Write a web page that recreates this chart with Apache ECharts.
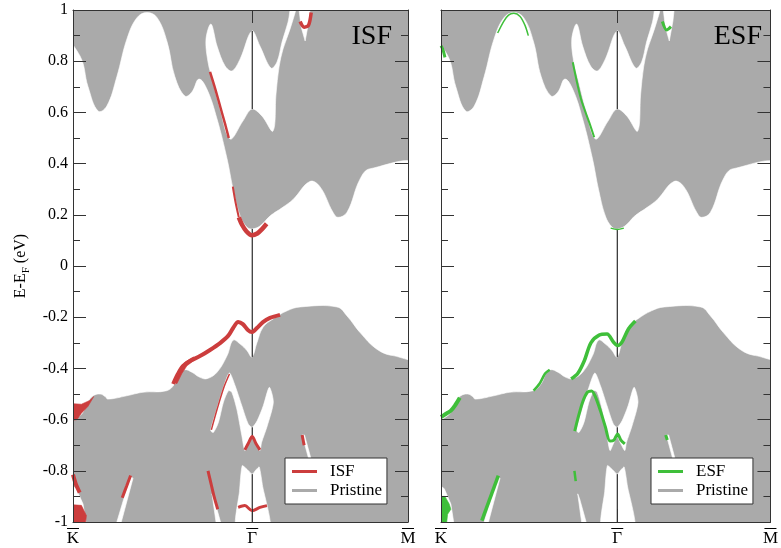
<!DOCTYPE html>
<html><head><meta charset="utf-8">
<script src="https://cdn.jsdelivr.net/npm/echarts@6/dist/echarts.min.js"></script>
<style>html,body{margin:0;padding:0;background:#fff}#c{width:781px;height:548px}</style>
</head><body><div id="c"></div>
<script>
// ---- axis ticks (x is fraction of the K-Γ-M path) ----
const xTickValues = [0, 0.535, 1];
const xTickLabels = ['K', 'Γ', 'M'];
const gammaX = 0.535;
const gammaSpans = [[0.918, 0.613], [0.145, -0.355], [-0.630, -0.669], [-0.813, -1]];
const panelNames = ['ISF', 'ESF'];
const pristineEnvelope = [[0, -1, 1, 1]];

// ---- gaps in the projected bulk (pristine) bands ----
const gapCentralTop = [[0,0.887],[0.021,0.82],[0.045,0.70],[0.075,0.605],[0.101,0.625],[0.131,0.74],[0.161,0.887],[0.191,0.97],[0.221,0.99],[0.251,0.97],[0.281,0.875],[0.304,0.74],[0.334,0.664],[0.355,0.68],[0.376,0.73],[0.400,0.69],[0.430,0.574],[0.460,0.418],[0.478,0.30],[0.499,0.195],[0.519,0.152],[0.534,0.145],[0.558,0.156],[0.588,0.195],[0.627,0.23],[0.657,0.26],[0.707,0.33],[0.737,0.31],[0.776,0.21],[0.791,0.19],[0.818,0.21],[0.857,0.34],[0.887,0.38],[1,0.383]];
const gapCentralBottom = [[0,-0.6],[0.02,-0.585],[0.045,-0.53],[0.06,-0.507],[0.081,-0.5],[0.096,-0.51],[0.104,-0.52],[0.16,-0.507],[0.209,-0.493],[0.28,-0.487],[0.304,-0.46],[0.319,-0.42],[0.334,-0.405],[0.355,-0.415],[0.379,-0.435],[0.400,-0.44],[0.430,-0.415],[0.460,-0.35],[0.478,-0.29],[0.499,-0.305],[0.519,-0.33],[0.534,-0.355],[0.549,-0.30],[0.567,-0.24],[0.597,-0.207],[0.639,-0.175],[0.678,-0.16],[0.788,-0.16],[0.818,-0.195],[0.857,-0.26],[0.907,-0.325],[0.955,-0.35],[1,-0.352]];
const gapUpper = [[0.397,0.887],[0.412,0.945],[0.430,0.859],[0.454,0.781],[0.475,0.762],[0.499,0.809],[0.534,0.918],[0.558,0.859],[0.591,0.773],[0.609,0.797],[0.624,0.875],[0.642,0.953],[0.654,1.0],[0.669,1.0],[0.648,0.926],[0.627,0.848],[0.615,0.777],[0.606,0.672],[0.597,0.527],[0.564,0.586],[0.534,0.613],[0.507,0.566],[0.469,0.496],[0.439,0.613],[0.418,0.719],[0.403,0.797]];
const gapTopRight = [[0.672,1.0],[0.710,1.0],[0.704,0.957],[0.693,0.879],[0.681,0.934]];
const gapLowerX = [[0.411,-0.643],[0.429,-0.559],[0.449,-0.474],[0.467,-0.418],[0.484,-0.468],[0.504,-0.546],[0.523,-0.617],[0.535,-0.630],[0.550,-0.604],[0.568,-0.546],[0.586,-0.474],[0.598,-0.532],[0.580,-0.624],[0.563,-0.689],[0.558,-0.721],[0.546,-0.695],[0.535,-0.669],[0.523,-0.695],[0.513,-0.721],[0.504,-0.663],[0.489,-0.559],[0.474,-0.493],[0.464,-0.487],[0.449,-0.532],[0.434,-0.611],[0.419,-0.650]];
const gapBottomGamma = [[0.505,-0.78],[0.52,-0.795],[0.535,-0.813],[0.547,-0.795],[0.556,-0.785],[0.566,-0.86],[0.588,-1],[0.487,-1],[0.497,-0.88]];
const gapSliverE = [[0.415,-0.89],[0.421,-0.91],[0.447,-1],[0.430,-1]];
const gapSliverF = [[0.684,-0.66],[0.691,-0.66],[0.714,-0.77],[0.707,-0.77]];
const gapSliverG = [[0.172,-0.82],[0.179,-0.83],[0.138,-1],[0.124,-1]];
const gapCornerK = [[0,-0.83],[0.01,-0.87],[0.03,-0.93],[0.042,-1],[0,-1]];

// ---- ISF stacking-fault bands ----
const isfValenceBand = [[0.299,-0.461],[0.313,-0.422],[0.328,-0.391],[0.349,-0.371],[0.379,-0.352],[0.409,-0.328],[0.439,-0.301],[0.463,-0.273],[0.478,-0.242],[0.493,-0.219],[0.507,-0.227],[0.522,-0.25],[0.534,-0.258],[0.549,-0.242],[0.567,-0.219],[0.588,-0.203],[0.618,-0.191]];
const isfConductionSide = [[0.477,0.31],[0.485,0.25],[0.495,0.19]];
const isfConductionDip = [[0.495,0.19],[0.505,0.16],[0.518,0.135],[0.534,0.12],[0.55,0.127],[0.565,0.145],[0.578,0.165]];
const isfUpperEdge = [[0.409,0.758],[0.425,0.69],[0.44,0.62],[0.455,0.55],[0.465,0.50]];
const isfTopRight = [[0.678,0.955],[0.69,0.933],[0.703,0.94],[0.711,0.99]];
const isfArmLeft = [[0.413,-0.64],[0.431,-0.556],[0.451,-0.472],[0.467,-0.422]];
const isfGammaV = [[0.513,-0.718],[0.523,-0.693],[0.535,-0.666],[0.546,-0.693],[0.558,-0.718]];
const isfGammaWave = [[0.493,-0.943],[0.513,-0.936],[0.535,-0.956],[0.558,-0.943],[0.579,-0.936]];
const isfSliverE = [[0.403,-0.80],[0.412,-0.85],[0.421,-0.90],[0.432,-0.95]];
const isfSliverF = [[0.684,-0.66],[0.690,-0.70]];
const isfSliverG = [[0.172,-0.818],[0.16,-0.86],[0.147,-0.905]];
const isfEdgeK = [[0,-0.815],[0.008,-0.85],[0.02,-0.885]];
const isfBlobK = [[0,-0.535],[0.025,-0.54],[0.05,-0.525],[0.062,-0.51],[0.045,-0.548],[0.025,-0.575],[0.012,-0.6],[0,-0.61]];
const isfBlobKBottom = [[0,-0.93],[0.025,-0.935],[0.04,-0.975],[0.035,-1],[0,-1]];
const isfBlobValence = [[0.305,-0.455],[0.318,-0.41],[0.335,-0.375],[0.36,-0.355],[0.365,-0.365],[0.34,-0.39],[0.325,-0.42],[0.31,-0.46]];

// ---- ESF stacking-fault bands ----
const esfKValence = [[0,-0.59],[0.012,-0.58],[0.03,-0.565],[0.045,-0.54],[0.057,-0.515]];
const esfBump = [[0.281,-0.487],[0.30,-0.458],[0.316,-0.42],[0.33,-0.405]];
const esfValenceBand = [[0.395,-0.441],[0.415,-0.42],[0.435,-0.37],[0.455,-0.30],[0.48,-0.27],[0.504,-0.266],[0.524,-0.298],[0.536,-0.311],[0.549,-0.298],[0.569,-0.246],[0.59,-0.215]];
const esfLowerX = [[0.406,-0.645],[0.415,-0.598],[0.430,-0.531],[0.445,-0.492],[0.457,-0.488],[0.469,-0.512],[0.484,-0.566],[0.499,-0.629],[0.513,-0.684],[0.525,-0.68],[0.536,-0.656],[0.546,-0.68],[0.558,-0.695]];
const esfSliverE = [[0.405,-0.80],[0.409,-0.84]];
const esfSliverF = [[0.682,-0.66],[0.687,-0.68]];
const esfSliverG = [[0.174,-0.819],[0.124,-0.995]];
const esfConductionK = [[0,0.86],[0.006,0.845],[0.012,0.815]];
const esfPeak = [[0.172,0.91],[0.19,0.955],[0.205,0.98],[0.221,0.987],[0.24,0.975],[0.255,0.94],[0.265,0.9]];
const esfUpperEdge = [[0.400,0.796],[0.425,0.652],[0.450,0.561],[0.465,0.503]];
const esfGammaMin = [[0.515,0.148],[0.535,0.143],[0.555,0.148]];
const esfTopRight = [[0.672,0.955],[0.685,0.922],[0.698,0.935]];
const esfBlobKBottom = [[0,-0.9],[0.012,-0.9],[0.025,-0.93],[0.03,-0.95],[0.02,-0.97],[0.015,-1],[0,-1]];

// ---- styling (not data) ----
const FONT = 'Liberation Serif';
const GRAY = '#aaaaaa';
const colors = { ISF: '#cc3d3d', ESF: '#3fbf3a' };
const gapPolys = [gapCentralTop.concat(gapCentralBottom.slice().reverse()), gapUpper, gapTopRight, gapLowerX, gapBottomGamma, gapSliverE, gapSliverF, gapSliverG, gapCornerK];
const gapSmooth = [0.4, 0.35, 0, 0.25, 0.2, 0, 0, 0, 0];

const panelLines = {
  ISF: [[isfValenceBand,4],[isfConductionSide,2],[isfConductionDip,4.5],[isfUpperEdge,2.5],[isfTopRight,3.5],[isfArmLeft,1.5],[isfGammaV,3],[isfGammaWave,3],[isfSliverE,3],[isfSliverF,3],[isfSliverG,3],[isfEdgeK,4]],
  ESF: [[esfKValence,4],[esfBump,2.5],[esfValenceBand,3.5],[esfLowerX,3],[esfSliverE,2.5],[esfSliverF,3],[esfSliverG,3.5],[esfConductionK,3],[esfPeak,1.5],[esfUpperEdge,2],[esfGammaMin,1.5],[esfTopRight,3]]
};
const panelBlobs = { ISF: [isfBlobK, isfBlobKBottom, isfBlobValence], ESF: [esfBlobKBottom] };

// push points lying on the frame slightly outside it, so smoothing/clipping keep the frame edges crisp
function pushOut(p) {
  let x = p[0], y = p[1];
  if (x <= 0) x = -0.03; else if (x >= 1) x = 1.03;
  if (y <= -1) y = -1.03; else if (y >= 1) y = 1.03;
  return [x, y];
}
function polyRender(polys, fill, smooths) {
  return function (params, api) {
    const pts = polys[params.dataIndex].map(p => api.coord(pushOut(p)));
    const sm = smooths ? smooths[params.dataIndex] : 0;
    return { type: 'polygon', shape: { points: pts, smooth: sm }, style: { fill: fill, stroke: fill, lineWidth: 0.6 } };
  };
}

const series = [];
const grids = [];
const xAxes = [];
const yAxes = [];
const legends = [];
const titles = [];
const axisColor = '#333';
const labelFmt = v => {
  let i = xTickValues.findIndex(t => Math.abs(t - v) < 1e-6);
  if (i < 0) return '';
  return '{bar| }\n{t|' + xTickLabels[i] + '}';
};

panelNames.forEach((name, g) => {
  const left = g === 0 ? 73 : 441;
  const xi = 2 * g, yi = 2 * g;
  grids.push({ left: left, top: 10, width: 335, height: 512 });
  const common = { type: 'value', gridIndex: g, min: 0, max: 1, splitLine: { show: false }, z: 10,
    axisLine: { show: true, onZero: false, lineStyle: { color: axisColor, width: 1 } } };
  xAxes.push(Object.assign({}, common, { position: 'bottom',
    axisTick: { show: true, inside: true, length: 13, customValues: [gammaX], lineStyle: { color: axisColor } },
    axisLabel: { show: true, customValues: xTickValues, formatter: labelFmt, margin: 4, color: '#000',
      rich: { bar: { width: 12, height: 1, lineHeight: 5, backgroundColor: '#000', fontSize: 1 },
              t: { fontFamily: FONT, fontSize: 17, color: '#000', lineHeight: 16 } } } }));
  xAxes.push(Object.assign({}, common, { position: 'top',
    axisTick: { show: true, inside: true, length: 13, customValues: [gammaX], lineStyle: { color: axisColor } },
    axisLabel: { show: false } }));
  const ycommon = { type: 'value', gridIndex: g, min: -1, max: 1, interval: 0.2, splitLine: { show: false }, z: 10,
    axisLine: { show: true, onZero: false, lineStyle: { color: axisColor, width: 1 } },
    axisTick: { show: true, inside: true, length: 13, lineStyle: { color: axisColor } },
    minorTick: { show: true, splitNumber: 2, length: 7, lineStyle: { color: axisColor } } };
  yAxes.push(Object.assign({}, ycommon, { position: 'left',
    axisLabel: { show: g === 0, fontFamily: FONT, fontSize: 16, color: '#000', margin: 5 },
    name: g === 0 ? '{a|E-E}{s|F}{a| (eV)}' : '', nameLocation: 'middle', nameGap: 41,
    nameTextStyle: { color: '#000', fontFamily: FONT, rich: {
      a: { fontFamily: FONT, fontSize: 16, color: '#000', lineHeight: 22, verticalAlign: 'middle' },
      s: { fontFamily: FONT, fontSize: 11, color: '#000', lineHeight: 11, verticalAlign: 'bottom' } } } }));
  yAxes.push(Object.assign({}, ycommon, { position: 'right', axisLabel: { show: false } }));

  // pristine bulk envelope
  series.push({ type: 'custom', name: 'Pristine', xAxisIndex: xi, yAxisIndex: yi, z: 1, silent: true,
    itemStyle: { color: GRAY }, encode: { x: [0, 2], y: [1, 3] }, data: pristineEnvelope,
    renderItem: (params, api) => {
      const a = api.coord([api.value(0), api.value(1)]);
      const b = api.coord([api.value(2), api.value(3)]);
      return { type: 'rect', shape: { x: a[0], y: b[1], width: b[0] - a[0], height: a[1] - b[1] }, style: { fill: GRAY } };
    } });
  // gaps of the bulk projection
  series.push({ type: 'custom', name: 'gap', xAxisIndex: xi, yAxisIndex: yi, z: 2, silent: true, clip: true,
    data: gapPolys.map(p => p[0]), renderItem: polyRender(gapPolys, '#ffffff', gapSmooth) });
  // Γ line visible in the gaps
  gammaSpans.forEach(s => {
    series.push({ type: 'line', name: 'gammaLine', xAxisIndex: xi, yAxisIndex: yi, z: 3, silent: true,
      showSymbol: false, symbol: 'none', data: [[gammaX, s[0]], [gammaX, s[1]]],
      lineStyle: { color: '#000', width: 1 } });
  });
  // stacking-fault bands
  const col = colors[name];
  panelLines[name].forEach(([pts, w]) => {
    series.push({ type: 'line', name: name, xAxisIndex: xi, yAxisIndex: yi, z: 4, silent: true,
      showSymbol: false, symbol: 'none', smooth: 0.3, data: pts,
      itemStyle: { color: col }, lineStyle: { color: col, width: w } });
  });
  series.push({ type: 'custom', name: name, xAxisIndex: xi, yAxisIndex: yi, z: 4, silent: true, clip: true,
    itemStyle: { color: col }, data: panelBlobs[name].map(p => p[0]), renderItem: polyRender(panelBlobs[name], col, null) });

  const lineIcon = 'path://M0,0H25V3H0Z';
  legends.push({ orient: 'vertical', left: g === 0 ? 285 : 651, top: 458, z: 20,
    backgroundColor: '#fff', borderColor: '#333', borderWidth: 1, borderRadius: 0,
    padding: [5, 5, 5, 7], itemGap: 2, itemWidth: 25, itemHeight: 3, selectedMode: false,
    textStyle: { fontFamily: FONT, fontSize: 17, color: '#000', lineHeight: 17, padding: [0, 0, 0, 8] },
    data: [{ name: name, icon: lineIcon }, { name: 'Pristine', icon: lineIcon }] });
  titles.push({ text: name, right: g === 0 ? 389 : 19, top: 23, padding: 0, z: 20,
    textStyle: { fontFamily: FONT, fontSize: 28, fontWeight: 'normal', color: '#000' } });
});

const chart = echarts.init(document.getElementById('c'), null, { renderer: 'canvas' });
chart.setOption({
  animation: false,
  backgroundColor: '#fff',
  title: titles,
  legend: legends,
  grid: grids,
  xAxis: xAxes,
  yAxis: yAxes,
  series: series
});
</script></body></html>
